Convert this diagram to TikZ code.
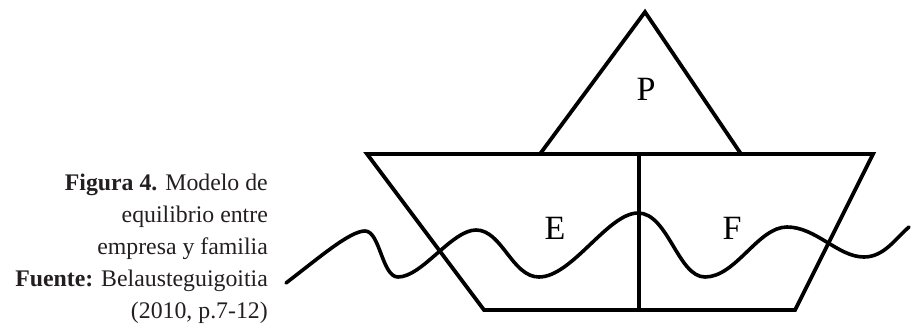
\documentclass[tikz,border=0pt]{standalone}
\usepackage{fontspec}
\setmainfont{Liberation Serif}
\definecolor{captxt}{HTML}{231F20}
\begin{document}
\begin{tikzpicture}[x=1pt,y=1pt,
  boatline/.style={line width=3.8pt,line join=miter,line cap=butt},
  wavel/.style={line width=3.6pt,line cap=round},
  lbl/.style={font=\fontsize{34}{34}\selectfont,inner sep=0pt},
  captionbox/.style={font=\fontsize{23.8}{32}\selectfont,align=right,inner sep=0pt,text=captxt}]
\useasboundingbox (0,0) rectangle (914,333);
% boat points
\coordinate (apex) at (645,321);
\coordinate (tl) at (540,179);
\coordinate (tr) at (741,179);
\coordinate (dl) at (367,179);
\coordinate (dr) at (873,179);
\coordinate (bl) at (484,23);
\coordinate (br) at (795,23);
\coordinate (mt) at (639,179);
\coordinate (mb) at (639,23);
\draw[boatline] (tl) -- (apex) -- (tr);
\draw[boatline] (dl) -- (dr) -- (br) -- (bl) -- cycle;
\draw[boatline] (mt) -- (mb);
% wave
\coordinate (w0) at (286,50);
\coordinate (w1) at (365,102);
\coordinate (w2) at (398,56);
\coordinate (w3) at (476,103);
\coordinate (w4) at (539,56);
\coordinate (w5) at (638,120);
\coordinate (w6) at (705,56);
\coordinate (w7) at (787,106);
\coordinate (w8) at (864,76);
\coordinate (w9) at (909,106);
\draw[wavel] (w0) .. controls (320,76) and (350,102) .. (w1)
  .. controls (380,102) and (382,56) .. (w2)
  .. controls (422,56) and (452,103) .. (w3)
  .. controls (502,103) and (512,56) .. (w4)
  .. controls (572,56) and (608,120) .. (w5)
  .. controls (668,120) and (678,56) .. (w6)
  .. controls (736,56) and (758,106) .. (w7)
  .. controls (816,106) and (838,76) .. (w8)
  .. controls (884,76) and (895,94) .. (w9);
% labels
\node[lbl] (P) at (646,244) {P};
\node[lbl] (E) at (555,105) {E};
\node[lbl] (F) at (732,105) {F};
% caption
\node[captionbox,anchor=north east] (cap) at (268,159)
  {\textbf{Figura 4.} Modelo de\\ equilibrio entre\\ empresa y familia\\ \textbf{Fuente:} Belausteguigoitia\\ (2010, p.7-12)};
\end{tikzpicture}
\end{document}
